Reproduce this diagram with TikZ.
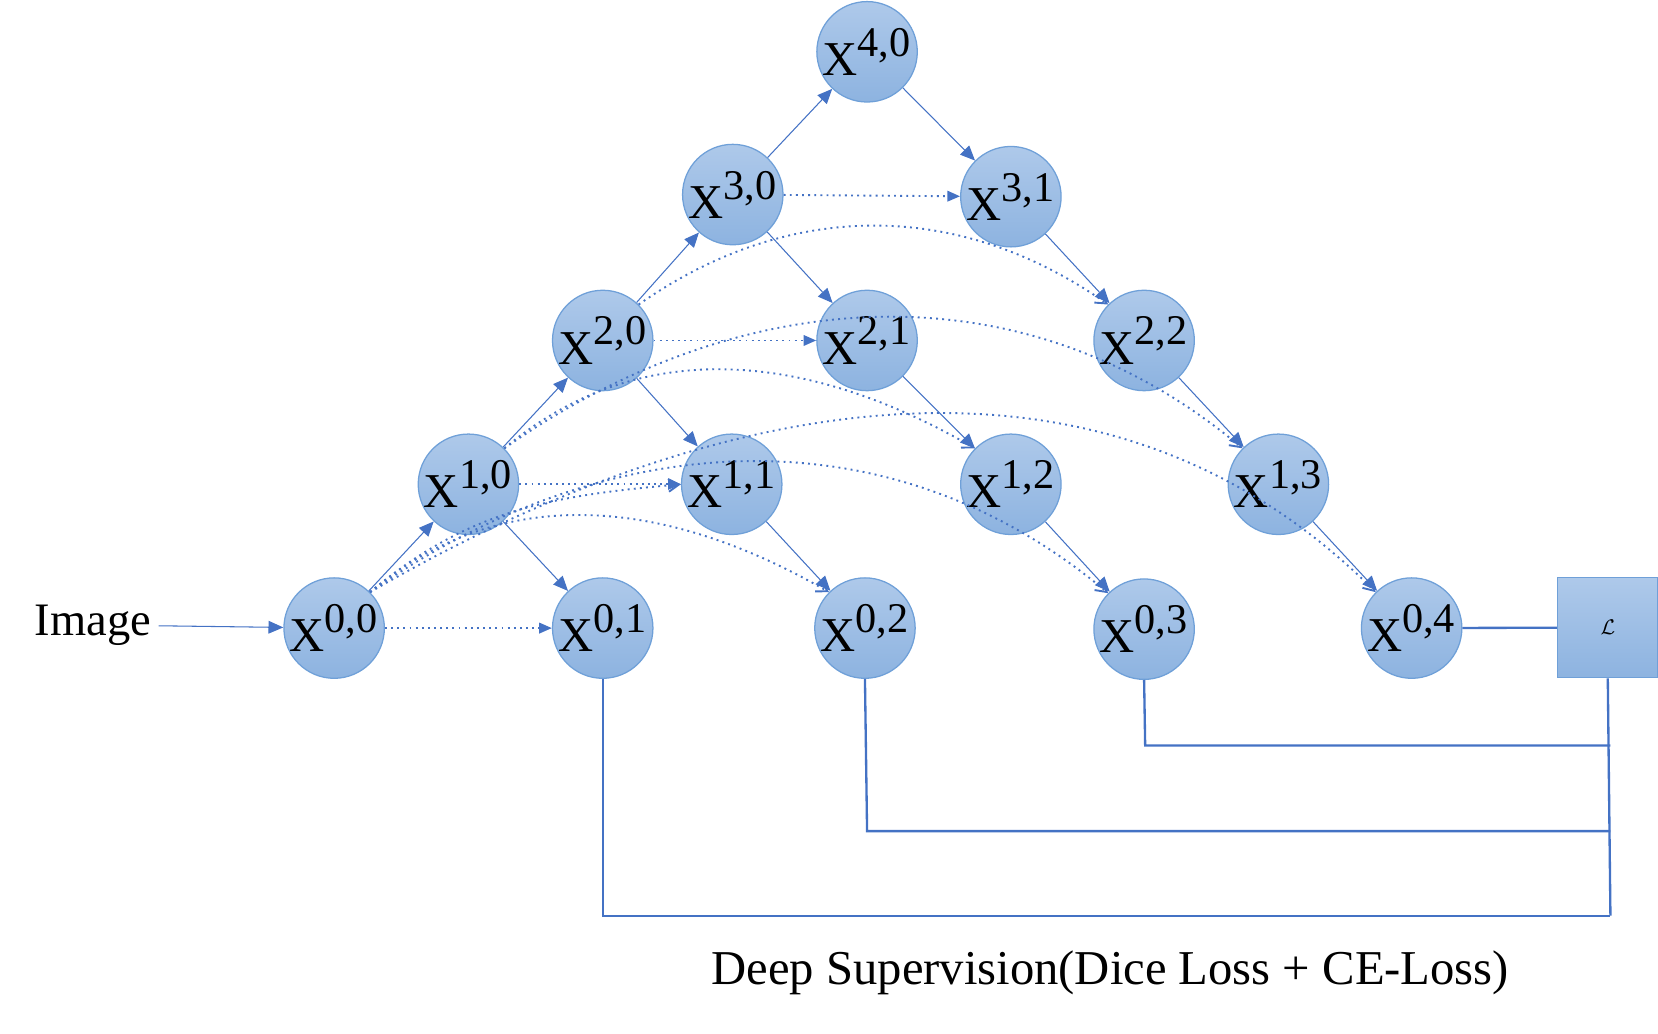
\documentclass[tikz,border=0pt]{standalone}
\usepackage{fontspec}
\setmainfont{Liberation Serif}
\usetikzlibrary{arrows.meta}
\definecolor{ln}{HTML}{4472C4}
\definecolor{ftop}{HTML}{AEC9EA}
\definecolor{fbot}{HTML}{8DB3E0}
\definecolor{bd}{HTML}{6FA0D8}
\begin{document}
\begin{tikzpicture}[x=0.5pt,y=-0.5pt,
  nd/.style={circle,draw=bd,line width=0.6pt,top color=ftop,bottom color=fbot,minimum size=47pt,inner sep=0pt,font=\fontsize{23}{23}\selectfont},
  sol/.style={draw=ln,line width=0.5pt,-{Triangle[length=7pt,width=6pt]}},
  dot/.style={draw=ln,line width=0.9pt,dotted,-{Triangle[length=6pt,width=5pt]}},
  cdot/.style={draw=ln,line width=0.9pt,dotted,-{Straight Barb[length=5pt,width=6pt]}},
  sup/.style={draw=ln,line width=1.1pt}]
\useasboundingbox (0,0) rectangle (1568,977);
\newcommand{\xl}[2]{X\textsuperscript{\fontsize{20}{20}\selectfont #1,#2}}
\node[nd] (x00) at (316,594) {\xl00};
\node[nd] (x01) at (570,594) {\xl01};
\node[nd] (x02) at (818,594) {\xl02};
\node[nd] (x03) at (1082,595) {\xl03};
\node[nd] (x04) at (1335,594) {\xl04};
\node[nd] (x10) at (443,458) {\xl10};
\node[nd] (x11) at (692,458) {\xl11};
\node[nd] (x12) at (956,458) {\xl12};
\node[nd] (x13) at (1209,458) {\xl13};
\node[nd] (x20) at (570,322) {\xl20};
\node[nd] (x21) at (820,322) {\xl21};
\node[nd] (x22) at (1082,322) {\xl22};
\node[nd] (x30) at (693,184) {\xl30};
\node[nd] (x31) at (956,186) {\xl31};
\node[nd] (x40) at (820,49) {\xl40};
\node[draw=bd,line width=0.6pt,top color=ftop,bottom color=fbot,minimum size=47.5pt,inner sep=0pt] (L) at (1520.5,593.5) {$\mathcal{L}$};
\node[font=\fontsize{22}{22}\selectfont] (img) at (88,591) {Image};
\node[font=\fontsize{23}{23}\selectfont] (ds) at (1050,920) {Deep Supervision(Dice Loss + CE-Loss)};
% solid
\draw[sol] (img) -- (x00);
\foreach \a/\b in {x00/x10,x10/x20,x20/x30,x30/x40,x40/x31,x31/x22,x22/x13,x13/x04,x30/x21,x21/x12,x12/x03,x20/x11,x11/x02,x10/x01}
  \draw[sol] (\a) -- (\b);
% straight skips
\draw[dot] (x00) -- (x01);
\draw[dot] (x10) -- (x11);
\draw[dot] (x20) -- (x21);
\draw[dot] (x30) -- (x31);
% curved skips
\draw[cdot] (x00.north east) to[out=40,in=150] (x02.north west);
\draw[cdot] (x00.north east) to[out=35,in=140] (x03.north west);
\draw[cdot] (x00.north east) to[out=30,in=135] (x04.north west);
\draw[cdot] (x00.north east) to[out=40,in=185] (x11.west);
\draw[cdot] (x10.north east) to[out=40,in=150] (x12.north west);
\draw[cdot] (x10.north east) to[out=35,in=140] (x13.north west);
\draw[cdot] (x20.north east) to[out=35,in=145] (x22.north west);
% deep supervision
\draw[sup] (x04) -- (L);
\draw[sup] (x01.south) ++(0,0) -- (570,866) -- (1523,866);
\draw[sup] (x02.south) -- (820,786) -- (1523,786);
\draw[sup] (x03.south) -- (1083,705) -- (1523,705);
\draw[sup] (L.south) -- (1523,866);
\end{tikzpicture}
\end{document}
